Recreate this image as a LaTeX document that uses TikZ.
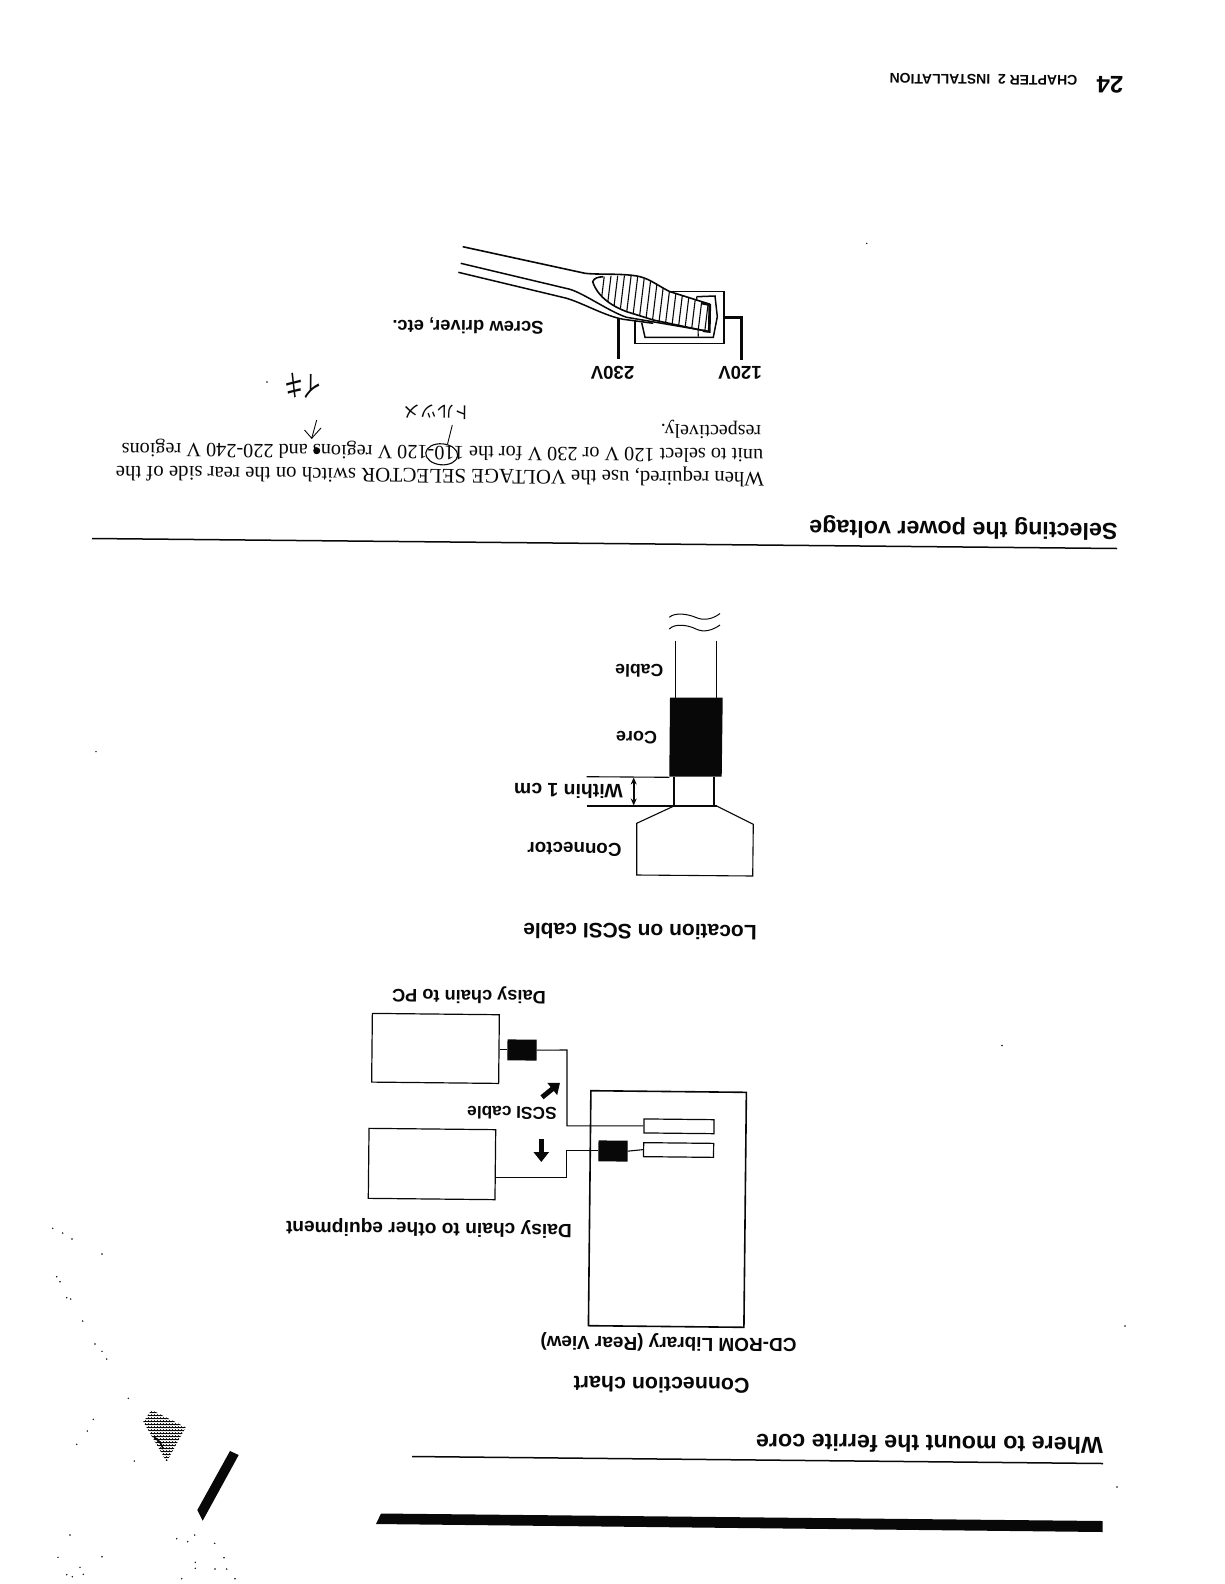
\documentclass[tikz,border=0pt]{standalone}
\usepackage{fontspec}
\setmainfont{Liberation Serif}
\setsansfont{Liberation Sans}
\newfontfamily\handfont{Noto Sans CJK JP}
\usetikzlibrary{arrows.meta, shapes.geometric, patterns}
\definecolor{cink}{HTML}{080808}
\newcommand{\fsize}[1]{\fontsize{#1}{#1}\selectfont}
\tikzset{
  every picture/.style={x=1pt, y=-1pt, line width=1.2pt},
  flip/.style={rotate=179.44, inner sep=0pt, text=cink},
  heading/.style={flip, font=\sffamily\bfseries\fsize{23.3}},
  subhead/.style={flip, font=\sffamily\bfseries\fsize{#1}},
  subhead/.default=21,
  label/.style={flip, font=\sffamily\bfseries\fsize{#1}},
  label/.default=18.2,
  para/.style={flip, font=\rmfamily\fsize{#1}},
  hand/.style={flip, font=\handfont\fsize{#1}},
  box/.style={draw=cink, rotate=-0.6, inner sep=0pt, minimum width=#1},
  corebox/.style={box=28pt, fill=cink, minimum height=19.7pt},
  slotbox/.style={box=70pt, minimum height=14pt},
  wire/.style={draw=cink, line width=1.1pt},
  fatwire/.style={draw=cink, line width=2.7pt},
  fatarrow/.style={-{Triangle[length=10pt, width=15pt]}, draw=cink, line width=5pt},
  dimarrow/.style={{Stealth[length=7pt, width=6pt]}-{Stealth[length=7pt, width=6pt]}, draw=cink, line width=1.8pt},
}
\begin{document}
\begin{tikzpicture}
  \fill[white] (0,0) rectangle (1224,1584);
  \useasboundingbox (0,0) rectangle (1224,1584);

  % running head
  \node[flip, font=\sffamily\bfseries\fsize{24}] (pagenum) at (1110,84.5) {24};
  \node[flip, font=\sffamily\bfseries\fsize{14}] (runhead) at (983.5,79.5) {CHAPTER 2\ \ INSTALLATION};

  % voltage selector
  \node[label=18.6] (v120) at (740,373) {120V};
  \node[label=18.6] (v230) at (612.5,373) {230V};
  \node[label=18.4] (screwlabel) at (468,326) {Screw driver, etc.};
  \draw[fatwire] (724,317.7) -- (741.7,317.7) -- (741.7,360);
  \draw[fatwire] (618.3,318.3) -- (618.3,359.3);
  \draw[wire, line width=1.5pt] (670,291.7) -- (724,291.7) -- (724,343.3) -- (635,343.3) -- (635,320.7);
  \draw[wire, line width=1.5pt] (696.7,296.7) -- (715,296) -- (717.3,316.7) -- (713.3,337.3) -- (645,337.3) -- (641.7,322.7);
  \draw[wire] (696.7,296.7) -- (698.3,336.7);
  \fill[white] (592.7,281.7) .. controls (594,278) and (598,277) .. (603.3,276.7)
    .. controls (620,275) and (632,275) .. (640,276.7)
    .. controls (650,279) and (660,287) .. (670,291.7)
    -- (709.3,304) -- (708.7,331.7)
    -- (653.3,320) -- (626.7,311.7)
    .. controls (614,307) and (598,298) .. cycle;
  \begin{scope}
    \clip (592.7,281.7) .. controls (594,278) and (598,277) .. (603.3,276.7)
      .. controls (620,275) and (632,275) .. (640,276.7)
      .. controls (650,279) and (660,287) .. (670,291.7)
      -- (709.3,304) -- (708.7,331.7)
      -- (653.3,320) -- (626.7,311.7)
      .. controls (614,307) and (598,298) .. cycle;
    \foreach \hx in {602,608.7,...,712}
      \draw[wire] (\hx+3,270) -- (\hx-5,336);
  \end{scope}
  \draw[wire, line width=1.6pt] (462.7,246.7) -- (585,273.3)
    .. controls (600,275) and (625,273) .. (640,276.7)
    .. controls (650,279) and (660,287) .. (670,291.7)
    -- (709.3,304) -- (708.7,331.7);
  \draw[wire, line width=1.6pt] (603.3,276.7) .. controls (598,277) and (594,278) .. (592.7,281.7)
    .. controls (598,298) and (614,307) .. (626.7,311.7) -- (653.3,320) -- (708.7,331.7);
  \draw[wire, line width=1.5pt] (460.7,263.3) -- (570,289.3) .. controls (585,294) and (610,312) .. (626.7,317.3) -- (706.7,331);
  \draw[wire, line width=1.5pt] (458.3,272.3) -- (566.7,298.3) .. controls (585,304) and (605,316) .. (623.3,319.3) -- (653.3,323.3);
  \draw[fatwire, line width=2.2pt] (701.7,303.3) -- (710,305) -- (709.5,331.7) -- (703,331);

  % paragraph and proof marks
  \node[para=20.8] (lineone) at (440,474.3) {When required, use the VOLTAGE SELECTOR switch on the rear side of the};
  \node[para=20.25] (linetwo) at (442.5,451) {unit to select 120 V or 230 V for the 110-120 V regions and 220-240 V regions};
  \node[para=20] (linethree) at (711,430) {respectively.};
  \node[draw=cink, ellipse, line width=1.1pt, rotate=-5, minimum width=32pt, minimum height=21pt, inner sep=0pt] (ring) at (441.7,454.3) {};
  \coordinate (tickend) at (452.3,425);
  \draw[wire, line width=0.9pt] (ring.65) -- (tickend);
  \node[hand=17] (deletemark) at (437.5,412) {トルツメ};
  \node[hand=22] (stetmark) at (303,386) {\scalebox{0.85}[1.35]{イキ}};
  \coordinate (stetfrom) at (316.7,420);
  \coordinate (stetto) at (311.7,438.3);
  \draw[wire, line width=0.9pt] (stetfrom) -- (stetto) -- (304.5,430);
  \draw[wire, line width=0.9pt] (stetto) -- (321,428);
  \fill[cink] (316.7,450.7) circle (3.5);

  % section rules and headings
  \node[heading] (powerhead) at (963.5,528) {Selecting the power voltage};
  \draw[cink, line width=1.5pt] (92,538.5) -- (1117,548.5);
  \node[heading] (corehead) at (929.5,1444) {Where to mount the ferrite core};
  \draw[cink, line width=1.5pt] (412,1456.5) -- (1103,1463.5);
  \fill[cink] (381,1513.5) -- (1102.7,1521) -- (1102.7,1532) -- (376,1524) -- cycle;

  % ferrite on the cable
  \draw[wire, line width=1pt] (669.3,617.3) .. controls (675,612) and (688,614) .. (696,617.5) .. controls (704,621) and (713,619) .. (720,613.5);
  \draw[wire, line width=1pt] (669.3,629) .. controls (675,623) and (688,625) .. (696,629) .. controls (704,633) and (713,630) .. (720,625);
  \draw[wire] (675.7,640.7) -- (675.7,698);
  \draw[wire] (716.3,640.7) -- (716.3,698);
  \fill[cink] (670,697.7) -- (722.7,697.7) -- (721.7,776.7) -- (669.3,776.7) -- cycle;
  \draw[wire] (674,776.7) -- (674,806);
  \draw[wire] (714,776.7) -- (714,806);
  \draw[wire] (674,806) -- (636.7,823.3) -- (636.7,875) -- (752.7,876) -- (753.3,824.3) -- (716.7,806);
  \draw[wire] (586.7,806) -- (716.7,806);
  \draw[wire] (586.7,776.7) -- (669.3,777.3);
  \coordinate (gaptop) at (633.7,777.5);
  \coordinate (gapbot) at (633.7,805.5);
  \draw[dimarrow] (gaptop) -- (gapbot);
  \node[label=17.6] (cablelabel) at (639.3,671) {Cable};
  \node[label=18] (corelabel) at (636.5,737.3) {Core};
  \node[label=19.4] (gaplabel) at (568.5,791) {Within 1 cm};
  \node[label=18.8] (connlabel) at (574.5,849.3) {Connector};
  \node[subhead] (lochead) at (640,931.7) {Location on SCSI cable};

  % connection chart
  \node[label=18.2] (pclabel) at (469,995) {Daisy chain to PC};
  \node[label=19.2] (otherlabel) at (429,1228) {Daisy chain to other equipment};
  \node[label=17.3] (scsilabel) at (512,1113) {SCSI cable};
  \node[label=19] (unitlabel) at (668.5,1342.5) {CD-ROM Library (Rear View)};
  \node[subhead=21.4] (charthead) at (661.6,1385) {Connection chart};
  \node[box=155.5pt, minimum height=235pt, line width=1.6pt] (unit) at (667.4,1209) {};
  \node[box=127pt, minimum height=68.7pt] (pcbox) at (435.5,1048.4) {};
  \node[box=126.7pt, minimum height=70pt] (otherbox) at (432,1164) {};
  \node[corebox] (corea) at (522,1050) {};
  \node[corebox] (coreb) at (613,1151) {};
  \node[slotbox] (slota) at (679,1126.3) {};
  \node[slotbox] (slotb) at (678.6,1150) {};
  \coordinate (benda) at (567,1050);
  \coordinate (bendb) at (566.5,1177.5);
  \draw[wire] (pcbox.east |- corea.west) -- (corea.west);
  \draw[wire] (corea.east) -- (benda) |- (slota.west);
  \draw[wire] (otherbox.east |- bendb) -- (bendb) |- (coreb.west);
  \draw[wire] (coreb.east) -- (slotb.west);
  \coordinate (arrowa) at (542,1097.3);
  \coordinate (arrowb) at (560,1082.7);
  \coordinate (arrowc) at (541.3,1139.3);
  \coordinate (arrowd) at (541.3,1162);
  \draw[fatarrow] (arrowa) -- (arrowb);
  \draw[fatarrow] (arrowc) -- (arrowd);

  % scanner debris
  \fill[cink] (230,1451) -- (238.7,1455) -- (202.7,1520.7) -- (197.3,1510) -- cycle;
  \path[pattern=crosshatch dots, pattern color=cink] (151.7,1410) -- (185.7,1427.3) -- (166.7,1461.7) -- (143.3,1421.7) -- cycle;
  \path[pattern=horizontal lines, pattern color=cink] (151.7,1410) -- (185.7,1427.3) -- (166.7,1461.7) -- (143.3,1421.7) -- cycle;
  \draw[cink, line width=1.6pt] (154,1437) .. controls (160,1441) and (162,1445) .. (163,1449);
  \foreach \sx/\sy in {52.7/1228.3, 62.7/1233, 72/1239, 102/1254, 56.7/1276.7, 60/1281.7, 66.7/1297.7, 70.7/1299,
      82.7/1321, 95/1344, 102/1351.3, 106.7/1359, 128.3/1398.3, 93.3/1419.3, 87.3/1431, 76.7/1444.3, 134.3/1461,
      70/1535, 176.7/1538.7, 187.7/1541.7, 194.7/1535, 214.7/1543.3, 102/1556.7, 58/1557.3, 224/1557.7, 80/1567.3,
      83.3/1574.3, 66.7/1574.7, 195.3/1562.3, 195.3/1568.3, 215/1569, 226.7/1569, 181.7/1578.7, 235/1578.7, 72.3/1576.7,
      866.7/243.4, 1125/1326, 1117/1487, 96/751.6, 1002/1045.5, 267/382}
    \fill[cink] (\sx,\sy) circle (0.8);
\end{tikzpicture}
\end{document}
